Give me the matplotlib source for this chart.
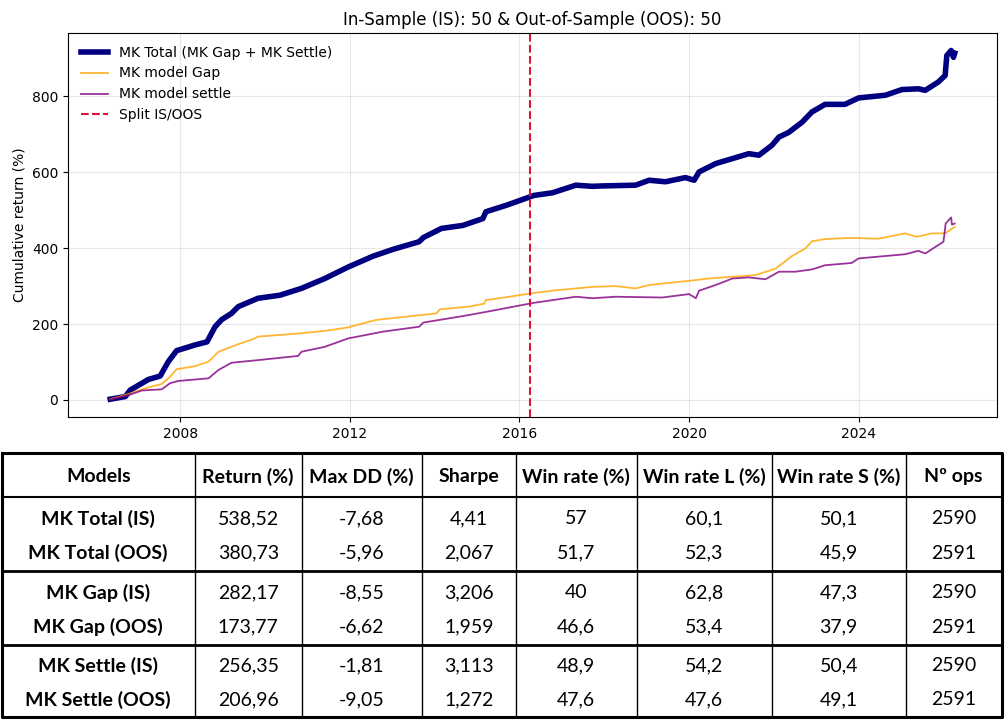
import matplotlib
matplotlib.use("Agg")
import matplotlib.pyplot as plt
import matplotlib.dates as mdates
import pandas as pd

# Cumulative return series
total_dates = ["2006-05-08", "2006-09-15", "2006-10-27", "2007-02-05", "2007-04-01", "2007-07-12",
               "2007-09-20", "2007-12-01", "2008-05-08", "2008-08-18", "2008-10-27", "2008-12-24",
               "2009-03-17", "2009-05-15", "2009-11-01", "2010-05-08", "2010-11-10", "2011-05-30",
               "2011-12-15", "2012-07-20", "2013-01-08", "2013-08-20", "2013-09-25", "2014-02-28",
               "2014-09-01", "2015-02-20", "2015-03-18", "2015-09-10", "2016-05-05", "2016-10-12",
               "2017-05-01", "2017-09-20", "2017-12-15", "2018-09-28", "2019-01-22", "2019-06-12",
               "2019-12-01", "2020-02-14", "2020-03-28", "2020-08-18", "2021-01-08", "2021-05-30",
               "2021-08-25", "2021-12-15", "2022-02-14", "2022-05-08", "2022-09-01", "2022-11-25",
               "2023-03-18", "2023-09-05", "2024-01-01", "2024-08-18", "2025-01-08", "2025-05-30",
               "2025-07-28", "2025-11-18", "2026-01-15", "2026-01-30", "2026-03-08", "2026-03-28",
               "2026-04-08"]
total_values = [2, 9, 26, 44, 54, 63, 101, 130, 145, 153, 193, 212,
                228, 246, 268, 276, 294, 320, 350, 379, 397, 417, 428, 452,
                460, 478, 496, 513, 539, 546, 566, 563, 564, 566, 579, 575,
                586, 579, 601, 623, 636, 649, 645, 671, 693, 705, 732, 759,
                779, 779, 796, 803, 818, 820, 816, 838, 855, 908, 921, 903,
                914]

gap_dates = ["2006-05-08", "2006-10-15", "2007-03-08", "2007-07-25", "2007-10-05", "2007-12-01",
             "2008-05-08", "2008-09-01", "2008-11-25", "2009-05-15", "2009-10-05", "2009-11-01",
             "2010-10-12", "2011-05-30", "2011-12-15", "2012-08-15", "2014-01-15", "2014-02-15",
             "2014-10-25", "2015-03-05", "2015-03-18", "2015-10-05", "2016-05-05", "2016-11-10",
             "2017-09-20", "2018-04-08", "2018-09-28", "2019-01-22", "2020-01-01", "2020-06-20",
             "2021-07-25", "2022-01-15", "2022-06-10", "2022-09-28", "2022-11-25", "2023-03-18",
             "2023-11-01", "2024-06-20", "2025-02-05", "2025-05-15", "2025-09-25", "2026-01-15",
             "2026-04-08"]
gap_values = [2, 16, 31, 42, 61, 81, 89, 101, 127, 147, 162, 167,
              175, 182, 191, 211, 228, 239, 246, 254, 263, 272, 282, 289,
              298, 300, 294, 303, 314, 320, 329, 346, 380, 399, 418, 424,
              427, 425, 439, 430, 439, 439, 456]

settle_dates = ["2006-05-08", "2006-10-15", "2007-02-05", "2007-07-25", "2007-10-05", "2007-12-15",
                "2008-09-01", "2008-11-25", "2009-03-17", "2009-11-01", "2010-10-12", "2010-11-10",
                "2011-05-30", "2011-12-15", "2012-10-12", "2013-08-20", "2013-09-25", "2014-09-01",
                "2015-03-18", "2016-05-05", "2017-05-01", "2017-09-20", "2018-04-08", "2019-05-15",
                "2020-01-01", "2020-02-28", "2020-03-28", "2020-08-18", "2021-01-08", "2021-05-30",
                "2021-10-20", "2022-02-14", "2022-07-05", "2022-11-25", "2023-03-18", "2023-11-01",
                "2024-01-01", "2025-02-05", "2025-05-30", "2025-07-28", "2026-01-01", "2026-01-20",
                "2026-03-08", "2026-03-15", "2026-04-08"]
settle_values = [1, 13, 25, 28, 44, 50, 57, 79, 98, 105, 116, 127,
                 140, 162, 180, 193, 204, 221, 232, 256, 272, 268, 272, 270,
                 279, 268, 288, 303, 320, 323, 318, 338, 338, 344, 355, 361,
                 373, 384, 393, 386, 417, 465, 481, 462, 465]

split_date = "2016-04-01"

# Metrics table
col_headers = ["Models", "Return (%)", "Max DD (%)", "Sharpe", "Win rate (%)",
               "Win rate L (%)", "Win rate S (%)", "Nº ops"]
models = ["MK Total (IS)", "MK Total (OOS)", "MK Gap (IS)", "MK Gap (OOS)",
          "MK Settle (IS)", "MK Settle (OOS)"]
ret = [538.52, 380.73, 282.17, 173.77, 256.35, 206.96]
max_dd = [-7.68, -5.96, -8.55, -6.62, -1.81, -9.05]
sharpe = [4.41, 2.067, 3.206, 1.959, 3.113, 1.272]
win_rate = [57, 51.7, 40, 46.6, 48.9, 47.6]
win_rate_l = [60.1, 52.3, 62.8, 53.4, 54.2, 47.6]
win_rate_s = [50.1, 45.9, 47.3, 37.9, 50.4, 49.1]
n_ops = [2590, 2591, 2590, 2591, 2590, 2591]

fig = plt.figure(figsize=(10.05, 7.21), dpi=100)
ax = fig.add_axes([0.0677, 0.4216, 0.9243, 0.5326])

ax.plot(pd.to_datetime(total_dates), total_values, color="navy", lw=4,
        label="MK Total (MK Gap + MK Settle)")
ax.plot(pd.to_datetime(gap_dates), gap_values, color="orange", lw=1.3, alpha=0.8,
        label="MK model Gap")
ax.plot(pd.to_datetime(settle_dates), settle_values, color="purple", lw=1.3, alpha=0.8,
        label="MK model settle")
ax.axvline(pd.to_datetime(split_date), color="crimson", ls="--", lw=1.5, label="Split IS/OOS")

ax.xaxis.set_major_locator(mdates.YearLocator(4))
ax.xaxis.set_major_formatter(mdates.DateFormatter("%Y"))
ax.set_yticks([0, 200, 400, 600, 800])
ax.grid(True, alpha=0.3)
ax.set_ylabel("Cumulative return (%)")
ax.set_title("In-Sample (IS): 50 & Out-of-Sample (OOS): 50", fontsize=12)
ax.legend(loc="upper left", frameon=False, fontsize=10)

# table drawn in pixel coordinates
tab = fig.add_axes([0, 0, 1, 1], zorder=-1)
tab.set_xlim(0, 1005)
tab.set_ylim(721, 0)
tab.axis("off")

col_x = [2, 194.5, 302, 421.5, 516, 636.5, 771.5, 906, 1001.5]
top, head_bot = 453, 497
group_y = [497, 571, 645, 717]

def fmt(v):
    return str(v).replace(".", ",")

columns = [models, [fmt(v) for v in ret], [fmt(v) for v in max_dd], [fmt(v) for v in sharpe],
           [fmt(v) for v in win_rate], [fmt(v) for v in win_rate_l], [fmt(v) for v in win_rate_s],
           [str(v) for v in n_ops]]

font = ["Lato", "DejaVu Sans"]
for i, h in enumerate(col_headers):
    cx = (col_x[i] + col_x[i + 1]) / 2
    tab.text(cx, (top + head_bot) / 2 + 1.5, h, ha="center", va="center", fontsize=14,
             fontweight="bold", family=font)
    for r in range(6):
        g = r // 2
        y0, y1 = group_y[g], group_y[g + 1]
        cy = y0 + (y1 - y0) * (0.29 if r % 2 == 0 else 0.76)
        tab.text(cx, cy, columns[i][r], ha="center", va="center", fontsize=14,
                 fontweight="bold" if i == 0 else "normal", family=font)

# grid lines of the table
for x in col_x[1:-1]:
    tab.plot([x, x], [top, group_y[-1]], color="black", lw=1.0)
tab.plot([col_x[0], col_x[-1]], [head_bot, head_bot], color="black", lw=1.5)
for y in group_y[1:-1]:
    tab.plot([col_x[0], col_x[-1]], [y, y], color="black", lw=2.0)
tab.plot([col_x[0], col_x[-1], col_x[-1], col_x[0], col_x[0]],
         [top, top, group_y[-1], group_y[-1], top], color="black", lw=2.2)

fig.savefig("out.png", dpi=100)
